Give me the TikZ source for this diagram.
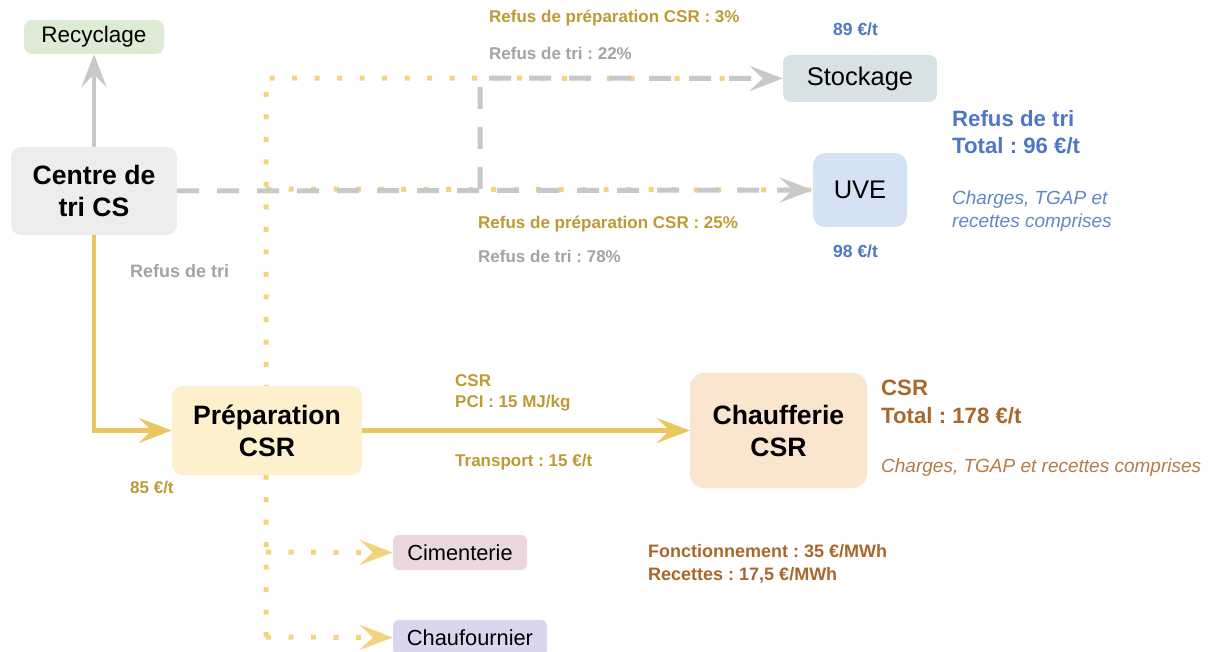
\documentclass[tikz,border=0pt]{standalone}
\usepackage{fontspec}
\setmainfont{Liberation Sans}
\usetikzlibrary{arrows.meta,backgrounds}
\frenchspacing

\definecolor{recfill}{HTML}{DDEBD4}
\definecolor{centrefill}{HTML}{EDEDED}
\definecolor{prepfill}{HTML}{FDF1CD}
\definecolor{chfill}{HTML}{FAE5CF}
\definecolor{stockfill}{HTML}{D6E2E3}
\definecolor{uvefill}{HTML}{D5E2F3}
\definecolor{cimfill}{HTML}{EAD8DE}
\definecolor{chaufill}{HTML}{D9D6EE}
\definecolor{lgray}{HTML}{C8C8C8}
\definecolor{gold}{HTML}{EDC55F}
\definecolor{dotgold}{HTML}{F3D47E}
\definecolor{goldtxt}{HTML}{BD9A33}
\definecolor{graytxt}{HTML}{A3A3A3}
\definecolor{bluetxt}{HTML}{4D78C4}
\definecolor{blueit}{HTML}{5F88C4}
\definecolor{browntxt}{HTML}{A9672C}
\definecolor{brownit}{HTML}{B37B45}

\tikzset{
  box/.style={rounded corners=#1, inner sep=0pt, align=center, text=black},
  box/.default=8pt,
  bigbold/.style={font=\fontsize{26.6}{32}\selectfont\bfseries},
  midtext/.style={font=\fontsize{21.8}{26}\selectfont},
  lbl/.style={anchor=base west, inner sep=0pt, font=\fontsize{17}{20}\selectfont\bfseries},
  head/.style={anchor=base west, inner sep=0pt, font=\fontsize{22.2}{26}\selectfont\bfseries},
  note/.style={anchor=base west, inner sep=0pt, font=\fontsize{19}{22}\selectfont\itshape},
  tip/.tip={Stealth[length=33pt, width=25pt, inset=13pt]},
  solidgray/.style={draw=lgray, line width=4.5pt, -tip},
  solidgold/.style={draw=gold, line width=4.5pt, -tip},
  dashgray/.style={draw=lgray, line width=5pt, dash pattern=on 22pt off 18pt},
  dotline/.style={draw=dotgold, line width=5pt, dash pattern=on 5pt off 17.5pt},
}

\begin{document}
\begin{tikzpicture}[x=1pt, y=-1pt]
\useasboundingbox (0,0) rectangle (1210,652);

% named coordinates for the dotted and dashed routes
\coordinate (dtop) at (266,78);
\coordinate (dmid) at (266,189);
\coordinate (dcim) at (266,552);
\coordinate (dbot) at (266,637);
\coordinate (jbot) at (480,189);
\coordinate (jtop) at (480,78);

% boxes
\node[box, fill=recfill, minimum width=140pt, minimum height=34pt, font=\fontsize{22.5}{26}\selectfont] (rec) at (94,37) {Recyclage};
\node[box=10pt, fill=centrefill, minimum width=166pt, minimum height=88pt, bigbold] (centre) at (94,191) {Centre de\\tri CS};
\node[box=10pt, fill=prepfill, minimum width=190pt, minimum height=89pt, bigbold] (prep) at (267,430.5) {Préparation\\CSR};
\node[box=14pt, fill=chfill, minimum width=177pt, minimum height=115pt, bigbold] (chauff) at (778.5,430.5) {Chaufferie\\CSR};
\node[box, fill=stockfill, minimum width=154pt, minimum height=47pt, font=\fontsize{25.5}{30}\selectfont] (stock) at (860,78.5) {Stockage};
\node[box=12pt, fill=uvefill, minimum width=94pt, minimum height=74pt, font=\fontsize{25.5}{30}\selectfont] (uve) at (860,190) {UVE};
\node[box=6pt, fill=cimfill, minimum width=134pt, minimum height=35pt, midtext] (cim) at (460,552.5) {Cimenterie};
\node[box=6pt, fill=chaufill, minimum width=154pt, minimum height=35pt, midtext] (chau) at (470,637.5) {Chaufournier};

\begin{scope}[on background layer]
% dotted CSR-rejects routes
\draw[dotline] (dbot) -- (dtop) -- (stock.west);
\draw[dotline] (dmid) -- (uve.west);
\draw[dotline, -tip] (dcim) -- (cim.west);
\draw[dotline, -tip] (dbot) -- (chau.west);
% sorting rejects (gray dashed)
\draw[dashgray, -tip] (centre.east) -- (uve.west);
\draw[dashgray, -tip] (jbot) -- (jtop) -- (stock.west);
% solid flows
\draw[solidgray] (centre.north) -- (rec.south);
\draw[solidgold] (centre.south) |- (prep.west);
\draw[solidgold] (prep.east) -- (chauff.west);
\end{scope}

% labels on the reject routes
\node[lbl, text=goldtxt] (l1) at (489,23) {Refus de préparation CSR : 3\%};
\node[lbl, text=graytxt] (l2) at (489,60) {Refus de tri : 22\%};
\node[lbl, text=goldtxt] (l3) at (478,229) {Refus de préparation CSR : 25\%};
\node[lbl, text=graytxt] (l4) at (478,263) {Refus de tri : 78\%};
\node[lbl, text=graytxt, font=\fontsize{18}{20}\selectfont\bfseries] (l5) at (130,278) {Refus de tri};
\node[lbl, text=goldtxt] (l6) at (130,493) {85 €/t};

% costs of the reject outlets
\node[lbl, text=bluetxt, font=\fontsize{17.5}{20}\selectfont\bfseries] (p1) at (833,36) {89 €/t};
\node[lbl, text=bluetxt, font=\fontsize{17.5}{20}\selectfont\bfseries] (p2) at (833,258) {98 €/t};
\node[head, text=bluetxt] (t1) at (952,127) {Refus de tri};
\node[head, text=bluetxt] (t2) at (952,154) {Total : 96 €/t};
\node[note, text=blueit] (t3) at (952,205) {Charges, TGAP et};
\node[note, text=blueit] (t4) at (952,228) {recettes comprises};

% CSR flow labels
\node[lbl, text=goldtxt] (c1) at (455,386) {CSR};
\node[lbl, text=goldtxt] (c2) at (455,407) {PCI : 15 MJ/kg};
\node[lbl, text=goldtxt] (c3) at (455,466) {Transport : 15 €/t};

% boiler totals
\node[head, text=browntxt] (b1) at (881,395) {CSR};
\node[head, text=browntxt] (b2) at (881,423) {Total : 178 €/t};
\node[note, text=brownit] (b3) at (881,472) {Charges, TGAP et recettes comprises};
\node[lbl, text=browntxt, font=\fontsize{18}{20}\selectfont\bfseries] (b4) at (648,557) {Fonctionnement : 35 €/MWh};
\node[lbl, text=browntxt, font=\fontsize{18}{20}\selectfont\bfseries] (b5) at (648,580) {Recettes : 17,5 €/MWh};
\end{tikzpicture}
\end{document}
